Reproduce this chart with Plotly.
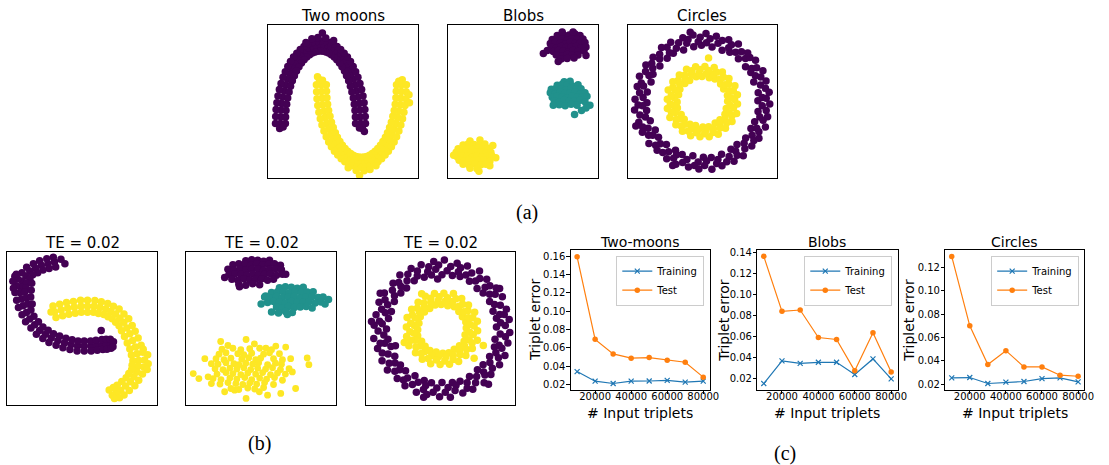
import plotly.graph_objects as go

# ---------------------------------------------------------------- data
# (a) / (b) scatter panels: point positions, in each
# panel's own data units (x: 0..151 left->right, y: 0..154 top->bottom)
A_MOON_PURPLE = [
    (93.1, 99), (98.1, 99), (88.1, 99), (92.9, 92.2), (97.9, 92), (87.9, 92.4),
    (92.5, 85.4), (97.5, 84.9), (87.5, 85.9), (91.7, 78.8), (96.7, 78.1), (86.8, 79.5),
    (90.7, 72.3), (95.6, 71.4), (85.8, 73.2), (89.3, 66), (94.2, 64.8), (84.4, 67.2),
    (87.7, 60), (92.5, 58.6), (82.9, 61.4), (85.8, 54.2), (90.5, 52.5), (81.1, 55.9),
    (83.6, 48.8), (88.2, 46.8), (79, 50.8), (81.3, 43.8), (85.7, 41.5), (76.9, 46.1),
    (78.7, 39.3), (83, 36.7), (74.4, 41.9), (75.9, 35.1), (79.9, 32.1), (71.9, 38.1),
    (72.9, 31.5), (76.6, 28.2), (69.2, 34.8), (69.8, 28.3), (73.1, 24.6), (66.5, 32),
    (66.5, 25.7), (69.4, 21.6), (63.6, 29.8), (63.2, 23.7), (65.5, 19.3), (60.9, 28.1),
    (59.7, 22.2), (61.3, 17.5), (58.1, 26.9), (56.2, 21.3), (57, 16.4), (55.4, 26.2),
    (52.7, 21), (52.7, 16), (52.7, 26), (49.2, 21.3), (48.4, 16.4), (50, 26.2),
    (45.7, 22.2), (44.1, 17.5), (47.3, 26.9), (42.2, 23.7), (39.9, 19.3), (44.5, 28.1),
    (38.9, 25.7), (36, 21.6), (41.8, 29.8), (35.6, 28.3), (32.3, 24.6), (38.9, 32),
    (32.5, 31.5), (28.8, 28.2), (36.2, 34.8), (29.5, 35.1), (25.5, 32.1), (33.5, 38.1),
    (26.7, 39.3), (22.4, 36.7), (31, 41.9), (24.1, 43.8), (19.7, 41.5), (28.5, 46.1),
    (21.8, 48.8), (17.2, 46.8), (26.4, 50.8), (19.6, 54.2), (14.9, 52.5), (24.3, 55.9),
    (17.7, 60), (12.9, 58.6), (22.5, 61.4), (16.1, 66), (11.2, 64.8), (21, 67.2),
    (14.7, 72.3), (9.8, 71.4), (19.6, 73.2), (13.7, 78.8), (8.7, 78.1), (18.6, 79.5),
    (12.9, 85.4), (7.9, 84.9), (17.9, 85.9), (12.5, 92.2), (7.5, 92), (17.5, 92.4),
    (12.3, 99), (7.3, 99), (17.3, 99),
    (50, 12.5), (58, 12.8), (44, 13.8), (54.6, 8), (11.5, 104), (15, 102.5),
    (95, 104), (97, 107), (92, 103.5), (66, 15.5), (38, 17.5),
]
A_MOON_YELLOW = [
    (53.6, 60), (48.6, 60), (58.6, 60), (53.8, 66.8), (48.8, 67), (58.8, 66.6),
    (54.2, 73.6), (49.2, 74.1), (59.2, 73.1), (55, 80.2), (50, 80.9), (59.9, 79.5),
    (56, 86.7), (51.1, 87.6), (60.9, 85.8), (57.4, 93), (52.5, 94.2), (62.3, 91.8),
    (59, 99), (54.2, 100.4), (63.8, 97.6), (60.9, 104.8), (56.2, 106.5), (65.6, 103.1),
    (63.1, 110.2), (58.5, 112.2), (67.7, 108.2), (65.4, 115.2), (61, 117.5), (69.8, 112.9),
    (68, 119.7), (63.7, 122.3), (72.3, 117.1), (70.8, 123.9), (66.8, 126.9), (74.8, 120.9),
    (73.8, 127.5), (70.1, 130.8), (77.5, 124.2), (76.9, 130.7), (73.6, 134.4), (80.2, 127),
    (80.2, 133.3), (77.3, 137.4), (83.1, 129.2), (83.5, 135.3), (81.2, 139.7), (85.8, 130.9),
    (87, 136.8), (85.4, 141.5), (88.6, 132.1), (90.5, 137.7), (89.7, 142.6), (91.3, 132.8),
    (94, 138), (94, 143), (94, 133), (97.5, 137.7), (98.3, 142.6), (96.7, 132.8),
    (101, 136.8), (102.6, 141.5), (99.4, 132.1), (104.5, 135.3), (106.8, 139.7), (102.2, 130.9),
    (107.8, 133.3), (110.7, 137.4), (104.9, 129.2), (111.1, 130.7), (114.4, 134.4), (107.8, 127),
    (114.2, 127.5), (117.9, 130.8), (110.5, 124.2), (117.2, 123.9), (121.2, 126.9), (113.2, 120.9),
    (120, 119.7), (124.3, 122.3), (115.7, 117.1), (122.6, 115.2), (127, 117.5), (118.2, 112.9),
    (124.9, 110.2), (129.5, 112.2), (120.3, 108.2), (127.1, 104.8), (131.8, 106.5), (122.4, 103.1),
    (129, 99), (133.8, 100.4), (124.2, 97.6), (130.6, 93), (135.5, 94.2), (125.7, 91.8),
    (132, 86.7), (136.9, 87.6), (127.1, 85.8), (133, 80.2), (138, 80.9), (128.1, 79.5),
    (133.8, 73.6), (138.8, 74.1), (128.8, 73.1), (134.2, 66.8), (139.2, 67), (129.2, 66.6),
    (134.4, 60), (139.4, 60), (129.4, 60),
    (96.7, 146.5), (88.7, 146.2), (102.7, 145.2), (92.1, 151), (135.2, 55), (131.7, 56.5),
    (51.7, 55), (49.7, 52), (54.7, 55.5), (80.7, 143.5), (108.7, 141.5), (142.5, 78), (142, 70),
]
A_BLOB_PURPLE = [
    (110, 10.5), (116, 9.5), (122, 10), (128, 9), (133, 10.5),
    (105, 14.5), (110, 13.5), (115, 14), (120, 15), (125, 13.5), (130, 14.5), (136, 14),
    (103, 18.5), (108, 17.5), (113, 18), (118, 19), (123, 17.5), (128, 18.5), (133, 18), (138, 17.5),
    (104, 22), (109, 23), (114, 21.5), (119, 22.5), (124, 22), (129, 21.5), (134, 23), (139, 22),
    (106, 26.5), (111, 25.5), (116, 26), (121, 27), (126, 25.5), (131, 26.5), (137, 26),
    (109, 30), (115, 31), (120, 29.5), (125, 30.5), (131, 30),
    (114, 34), (120, 33.5), (127, 33),
    (96, 28.5), (111, 36.5), (100, 25.5), (139, 30.5), (126, 7), (115, 7),
]
A_BLOB_TEAL = [
    (117, 57), (123, 56.5),
    (110, 60.5), (115, 59.5), (120, 60), (125, 61), (131, 60),
    (104, 64.5), (109, 63.5), (114, 64), (119, 65), (124, 63.5), (129, 64.5), (134, 64),
    (103, 68), (108, 69), (113, 67.5), (118, 68.5), (123, 68), (128, 67.5), (133, 69), (138, 68),
    (105, 72.5), (110, 71.5), (115, 72), (120, 73), (125, 71.5), (130, 72.5), (135, 72), (140, 71.5),
    (107, 76), (112, 77), (117, 75.5), (122, 76.5), (127, 76), (133, 75.5), (138, 77),
    (112, 80), (118, 81), (124, 79.5), (130, 80.5),
    (143, 80.5), (127.5, 90), (139, 83.5), (134.5, 86), (106, 80.5),
]
A_BLOB_YELLOW = [
    (22, 116.5), (32, 115.5),
    (15, 120.5), (20, 119.5), (26, 120), (31, 121), (37, 119.5),
    (10, 124.5), (15, 123.5), (20, 124), (25, 125), (30, 123.5), (35, 124.5), (40, 124),
    (8, 128), (13, 129), (18, 127.5), (23, 128.5), (28, 128), (33, 127.5), (38, 129), (43, 128),
    (9, 132.5), (14, 131.5), (19, 132), (24, 133), (29, 131.5), (34, 132.5), (39, 132), (44, 131.5),
    (11, 136), (16, 137), (21, 135.5), (26, 136.5), (31, 136), (36, 135.5), (42, 137),
    (15, 140), (21, 141), (27, 139.5), (33, 140.5), (38, 140),
    (22, 144), (29, 144.5),
    (45, 121), (48, 133.5), (31, 147), (5.5, 131), (42, 141.5),
]
B_MOON_PURPLE = [
    (47.5, 9.7), (46.3, 4.8), (48.7, 14.6), (40.9, 11.4), (39.7, 6.5), (42.1, 16.3),
    (34.2, 13), (32.5, 8.3), (35.9, 17.7), (28.4, 15.9), (26.2, 11.4), (30.6, 20.4),
    (22.5, 18.7), (19.4, 14.9), (25.6, 22.5), (18.7, 23.7), (14.7, 20.6), (22.7, 26.8),
    (14.8, 28.7), (10.3, 26.7), (19.3, 30.7), (13.7, 34.5), (8.8, 33.5), (18.6, 35.5),
    (12.5, 40.3), (7.6, 40.4), (17.4, 40.2), (14.2, 47), (9.3, 48.2), (19.1, 45.8),
    (15.8, 53.7), (11.1, 55.4), (20.5, 52), (19.2, 60.4), (14.7, 62.7), (23.7, 58.1),
    (22.5, 67), (18.3, 69.8), (26.7, 64.2), (27.5, 72.9), (23.7, 76.1), (31.3, 69.7),
    (32.5, 78.7), (29.2, 82.4), (35.8, 75), (38.4, 82.5), (35.7, 86.7), (41.1, 78.3),
    (44.2, 86.3), (41.9, 90.8), (46.5, 81.8), (50.9, 88.8), (49.1, 93.5), (52.7, 84.1),
    (57.5, 91.3), (56, 96.1), (59, 86.5), (64.2, 92.8), (63.1, 97.7), (65.3, 87.9),
    (70.8, 94.3), (70.3, 99.3), (71.3, 89.3), (77.5, 94.3), (77.5, 99.3), (77.5, 89.3),
    (84.2, 94.3), (84.5, 99.3), (83.9, 89.3), (90, 93.5), (90.7, 98.5), (89.3, 88.5),
    (95.8, 92.7), (96.3, 97.7), (95.3, 87.7), (100, 92.4), (100.4, 97.4), (99.6, 87.4),
    (104.2, 92), (104.6, 96.5), (103.8, 87.5),
    (94.6, 78.7), (5.5, 29), (6, 36), (7.5, 24), (107, 90), (106.5, 95), (54, 7),
    (9, 22), (58, 11.5), (24.5, 31), (24, 38), (23.5, 45), (25, 52),
]
B_MOON_YELLOW = [
    (47.5, 59.7), (49, 65.5), (46, 53.9), (54.2, 58), (55.7, 63.8), (52.7, 52.2),
    (60.8, 56.3), (62, 62.2), (59.6, 50.4), (67.5, 55.3), (68.4, 61.2), (66.6, 49.4),
    (74.2, 54.3), (74.6, 60.3), (73.8, 48.3), (80.8, 54.3), (80.8, 60.3), (80.8, 48.3),
    (87.5, 54.3), (86.8, 60.2), (88.2, 48.4), (93.3, 55.6), (91.9, 61.5), (94.7, 49.7),
    (99.2, 57), (97.2, 62.6), (101.2, 51.4), (104.2, 59.5), (101.5, 64.9), (106.9, 54.1),
    (109.2, 62), (105.7, 66.9), (112.7, 57.1), (113.4, 66.2), (109.2, 70.4), (117.6, 62),
    (117.5, 70.3), (112.6, 73.8), (122.4, 66.8), (120.5, 76.2), (115.1, 78.9), (125.9, 73.5),
    (123.5, 82), (118.1, 84.6), (128.9, 79.4), (126.4, 88.7), (120.9, 91.1), (131.9, 86.3),
    (129.2, 95.3), (123.5, 97.2), (134.9, 93.4), (130.9, 102), (125.1, 103.4), (136.7, 100.6),
    (132.5, 108.7), (126.6, 109), (138.4, 108.4), (131.7, 114.5), (125.8, 113.6), (137.6, 115.4),
    (130.8, 120.3), (125.3, 118.2), (136.3, 122.4), (127.5, 125.3), (122.5, 122), (132.5, 128.6),
    (124.2, 130.3), (119.8, 126.3), (128.6, 134.3), (119.2, 134.5), (115.4, 129.9), (123, 139.1),
    (114.2, 138.7), (110.7, 133.8), (117.7, 143.6), (110, 141.2), (106.9, 136.1), (113.1, 146.3),
    (105.8, 143.7), (102.7, 138.6), (108, 147),
    (141.5, 103), (142, 112), (141, 118), (44, 60), (137, 97.5),
]
B_BLOB_PURPLE = [
    (60, 8.5), (66, 7.5), (72, 8), (78, 9), (84, 8),
    (47, 12.5), (53, 11.5), (59, 12), (65, 13), (71, 11.5), (77, 12.5), (83, 12), (89, 11.5), (95, 13),
    (42, 17), (48, 18), (54, 16.5), (60, 17.5), (66, 17), (72, 16.5), (78, 18), (84, 17), (90, 16.5), (96, 17.5),
    (43, 22.5), (49, 21.5), (55, 22), (61, 23), (67, 21.5), (73, 22.5), (79, 22), (85, 21.5), (91, 23), (97, 22),
    (46, 27), (52, 28), (58, 26.5), (64, 27.5), (70, 27), (76, 26.5), (82, 28), (88, 27),
    (53, 32), (60, 33), (67, 31.5), (74, 32.5),
    (38.7, 25.3), (100.3, 22), (53.7, 34.7),
]
B_BLOB_TEAL = [
    (94, 35.5), (100, 34.5), (106, 35), (112, 36), (118, 35),
    (86, 40.5), (92, 39.5), (98, 40), (104, 41), (110, 39.5), (116, 40.5), (122, 40), (128, 39.5),
    (79, 45), (85, 46), (91, 44.5), (97, 45.5), (103, 45), (109, 44.5), (115, 46), (121, 45), (127, 44.5), (133, 45.5), (138, 45),
    (82, 50.5), (88, 49.5), (94, 50), (100, 51), (106, 49.5), (112, 50.5), (118, 50), (124, 49.5), (130, 51), (136, 50),
    (91, 55), (97, 56), (103, 54.5), (109, 55.5), (115, 55), (121, 54.5), (127, 56),
    (86, 60), (93, 61), (100, 59.5), (107, 60.5),
    (75.5, 52), (143.5, 47.5), (140, 52), (102, 62.5), (80, 44),
]
B_BLOB_YELLOW = [
    (34.7, 89.7), (42, 93.7), (60.3, 87.7), (68.7, 92), (80.3, 96.3), (90.3, 94.3), (100.3, 95.3),
    (105.3, 107), (107, 120.3), (122, 106.3), (123.7, 113), (110.3, 137), (95.3, 142), (82, 143.7),
    (60.3, 147), (38.7, 140.3), (25.3, 132), (22, 125.3), (7, 122), (12.7, 127), (18.7, 107),
    (25.3, 112), (73.7, 140.3), (48.7, 138.7), (97, 128.7), (103.7, 117),
    (36, 97.5), (47, 96.5), (55, 98), (64, 97), (74, 96.5), (86, 98),
    (33, 102.5), (40, 101), (52, 102), (58, 103), (66, 101.5), (78, 102.5), (84, 101), (94, 102),
    (30, 107), (38, 108), (45, 106.5), (56, 107.5), (63, 106), (70, 108), (75, 106.5), (88, 107), (97, 108),
    (32, 112.5), (40, 111), (48, 112), (53, 113), (60, 111.5), (67, 112.5), (73, 111), (82, 113), (90, 111.5), (96, 112.5),
    (29, 117), (37, 118), (44, 116.5), (51, 117.5), (58, 116), (65, 118), (72, 116.5), (80, 117.5), (87, 116), (95, 118),
    (31, 122.5), (40, 121), (47, 122), (55, 123), (62, 121.5), (70, 122.5), (77, 121), (85, 123), (92, 121.5), (100, 122.5),
    (27, 127), (35, 128), (44, 126.5), (51, 127.5), (59, 126), (66, 128), (74, 126.5), (81, 127.5), (89, 126),
    (34, 132.5), (42, 131), (50, 132), (57, 133), (64, 131.5), (71, 132.5), (79, 131), (88, 133),
    (45, 137), (53, 138), (62, 136.5), (69, 137.5), (78, 136),
]

# ring datasets, read as angle (deg) / radius (panel px) about the panel centre
A_RING_OUT_THETA = [
    1, 9, 21, 31, 39, 50, 61, 69, 80, 91, 99, 110, 121, 129, 140, 151, 159, 170,
    181, 189, 200, 211, 219, 230, 241, 249, 260, 271, 279, 290, 301, 309, 320, 331, 339, 350,
    4, 16, 26, 34, 45, 56, 64, 75, 86, 94, 105, 116, 124, 135, 146, 154, 165, 176,
    184, 195, 206, 214, 225, 236, 244, 255, 266, 274, 285, 296, 304, 315, 326, 334, 345, 356,
    3, 12, 23, 32, 43, 52, 63, 72, 83, 92, 103, 112, 123, 132, 143, 152, 163, 172,
    183, 192, 203, 212, 223, 232, 243, 252, 263, 272, 283, 292, 303, 312, 323, 332, 343, 352,
    8, 18, 27, 38, 47, 58, 67, 78, 87, 98, 107, 118, 127, 138, 147, 158, 167, 178,
    187, 198, 207, 218, 227, 238, 247, 258, 267, 278, 287, 298, 307, 318, 327, 338, 347, 358,
    200, 245, 100,
]
A_RING_OUT_R = [
    56, 57, 55.5, 57, 56, 56.5, 57, 55.5, 56, 57, 56, 55.5, 57, 56.5, 56, 57, 55.5, 56.5,
    56, 57, 56, 55.5, 57, 56.5, 56, 57, 55.5, 56, 57, 56.5, 56, 55.5, 57, 56, 56.5, 57,
    60.5, 61, 59.5, 60, 61.5, 60, 60.5, 61, 59.5, 60.5, 61, 60, 59.5, 61, 60.5, 60, 61.5, 60,
    60.5, 59.5, 61, 60.5, 60, 61, 59.5, 60.5, 61, 60, 60.5, 61.5, 60, 59.5, 60.5, 61, 60, 60.5,
    64.5, 65, 64, 64.5, 65.5, 64, 64.5, 65, 64, 65, 64.5, 64, 65.5, 64.5, 64, 65, 64.5, 64,
    65, 64.5, 65.5, 64, 64.5, 65, 64, 64.5, 65, 64.5, 64, 65.5, 64.5, 64, 65, 64.5, 64, 65,
    68, 67.5, 68.5, 68, 67, 68.5, 68, 67.5, 69, 68, 67.5, 68, 68.5, 67, 68, 68.5, 67.5, 68,
    69, 67.5, 68, 68.5, 67, 68, 68.5, 67.5, 68, 69, 67.5, 68, 68.5, 67, 68, 68.5, 67.5, 68,
    71.5, 71, 71,
]
A_RING_IN_THETA = [
    1, 14, 31, 44, 61, 74, 91, 104, 121, 134, 151, 164, 181, 194, 211, 224, 241, 254, 271, 284, 301, 314, 331, 344,
    8, 22, 37, 52, 68, 82, 97, 112, 128, 142, 157, 172, 188, 202, 217, 232, 248, 262, 277, 292, 308, 322, 337, 352,
    4, 19, 34, 49, 64, 79, 94, 109, 124, 139, 154, 169, 184, 199, 214, 229, 244, 259, 274, 289, 304, 319, 334, 349,
    11, 26, 41, 56, 71, 86, 101, 116, 131, 146, 161, 176, 191, 206, 221, 236, 251, 266, 281, 296, 311, 326, 341, 356,
    82,
]
A_RING_IN_R = [
    25.5, 26, 25, 25.5, 26, 25, 25.5, 26, 25, 25.5, 26, 25, 25.5, 26, 25, 25.5, 26, 25, 25.5, 26, 25, 25.5, 26, 25,
    29, 29.5, 28.5, 29, 29.5, 28.5, 29, 29.5, 28.5, 29, 29.5, 28.5, 29, 29.5, 28.5, 29, 29.5, 28.5, 29, 29.5, 28.5, 29, 29.5, 28.5,
    32.5, 33, 32, 32.5, 33, 32, 32.5, 33, 32, 32.5, 33, 32, 32.5, 33, 32, 32.5, 33, 32, 32.5, 33, 32, 32.5, 33, 32,
    36, 36.5, 35.5, 36, 36.5, 35.5, 36, 36.5, 35.5, 36, 36.5, 35.5, 36, 36.5, 35.5, 36, 36.5, 35.5, 36, 36.5, 35.5, 36, 36.5, 35.5,
    44.5,
]
B_RING_OUT_THETA = [
    2, 11, 19, 30, 41, 49, 60, 71, 79, 90, 101, 109, 120, 131, 139, 150, 161, 169,
    180, 191, 199, 210, 221, 229, 240, 251, 259, 270, 281, 289, 300, 311, 319, 330, 341, 349,
    6, 14, 25, 36, 44, 55, 66, 74, 85, 96, 104, 115, 126, 134, 145, 156, 164, 175,
    186, 194, 205, 216, 224, 235, 246, 254, 265, 276, 284, 295, 306, 314, 325, 336, 344, 355,
    3, 13, 22, 33, 42, 53, 62, 73, 82, 93, 102, 113, 122, 133, 142, 153, 162, 173,
    182, 193, 202, 213, 222, 233, 242, 253, 262, 273, 282, 293, 302, 313, 322, 333, 342, 353,
    8, 17, 28, 37, 48, 57, 68, 77, 88, 97, 108, 117, 128, 137, 148, 157, 168, 177,
    188, 197, 208, 217, 228, 237, 248, 257, 268, 277, 288, 297, 308, 317, 328, 337, 348, 357,
    174, 150, 310, 35, 255, 95, 200,
]
B_RING_OUT_R = [
    55, 56, 54.5, 55.5, 55, 54, 55.5, 56, 55, 54.5, 55.5, 55, 56, 54.5, 55, 55.5, 54, 55,
    56, 55.5, 54.5, 55, 55.5, 56, 54.5, 55, 55.5, 54, 55, 56, 55.5, 54.5, 55, 55.5, 56, 54.5,
    59.5, 60, 58.5, 59.5, 60.5, 59, 59.5, 60, 59, 60.5, 59.5, 59, 60, 59.5, 58.5, 60, 59.5, 60.5,
    59, 59.5, 60, 58.5, 59.5, 60.5, 59, 59.5, 60, 59.5, 58.5, 60, 59.5, 60.5, 59, 59.5, 60, 59,
    64, 64.5, 63.5, 64, 65, 63.5, 64, 64.5, 63.5, 64.5, 64, 63.5, 65, 64, 63.5, 64.5, 64, 63.5,
    64.5, 64, 65, 63.5, 64, 64.5, 63.5, 64, 64.5, 64, 63.5, 65, 64, 63.5, 64.5, 64, 63.5, 64.5,
    68.5, 68, 69, 68.5, 67.5, 69.5, 68.5, 68, 69.5, 68.5, 68, 68.5, 69, 67.5, 68.5, 69, 68, 68.5,
    69.5, 68, 68.5, 69, 67.5, 68.5, 69, 68, 68.5, 69.5, 68, 68.5, 69, 67.5, 68.5, 69, 68, 68.5,
    71.5, 72, 73, 71, 71.5, 50.5, 50,
]
B_RING_IN_THETA = [
    2, 16, 31, 46, 61, 76, 92, 106, 121, 136, 151, 166, 182, 196, 211, 226, 241, 256, 272, 286, 301, 316, 331, 346,
    9, 23, 38, 53, 69, 83, 98, 113, 129, 143, 158, 173, 189, 203, 218, 233, 249, 263, 278, 293, 309, 323, 338, 353,
    5, 20, 35, 50, 65, 80, 95, 110, 125, 140, 155, 170, 185, 200, 215, 230, 245, 260, 275, 290, 305, 320, 335, 350,
    12, 27, 42, 57, 72, 87, 102, 117, 132, 147, 162, 177, 192, 207, 222, 237, 252, 267, 282, 297, 312, 327, 342, 357,
    338, 317.5, 120, 200,
]
B_RING_IN_R = [
    24.5, 25, 24, 24.5, 25.5, 24, 24.5, 25, 24, 24.5, 25, 24, 24.5, 25.5, 24, 24.5, 25, 24, 24.5, 25, 24, 24.5, 25.5, 24,
    28.5, 29, 28, 28.5, 29.5, 28, 28.5, 29, 28, 28.5, 29, 28, 28.5, 29.5, 28, 28.5, 29, 28, 28.5, 29, 28, 28.5, 29.5, 28,
    32.5, 33, 32, 32.5, 33.5, 32, 32.5, 33, 32, 32.5, 33, 32, 32.5, 33.5, 32, 32.5, 33, 32, 32.5, 33, 32, 32.5, 33.5, 32,
    36.5, 37, 36, 36.5, 37.5, 36, 36.5, 37, 36, 36.5, 37, 36, 36.5, 37.5, 36, 36.5, 37, 36, 36.5, 37, 36, 36.5, 37.5, 36,
    45, 44, 41, 40.5,
]

# (c) triplet-error curves
INPUT_TRIPLETS = [10000, 20000, 30000, 40000, 50000, 60000, 70000, 80000]
MOONS_TRAIN = [0.0341, 0.0236, 0.0211, 0.0236, 0.0238, 0.0245, 0.0225, 0.0236]
MOONS_TEST = [0.1594, 0.0693, 0.0534, 0.0487, 0.0494, 0.0465, 0.0443, 0.0280]
BLOBS_TRAIN = [0.0149, 0.0365, 0.0342, 0.0352, 0.0352, 0.0235, 0.0384, 0.0194]
BLOBS_TEST = [0.1365, 0.0839, 0.0852, 0.0589, 0.0570, 0.0270, 0.0634, 0.0260]
CIRCLES_TRAIN = [0.0254, 0.0257, 0.0206, 0.0217, 0.0223, 0.0248, 0.0254, 0.0220]
CIRCLES_TEST = [0.1294, 0.0700, 0.0368, 0.0487, 0.0348, 0.0348, 0.0277, 0.0268]
X_TICKS = [20000, 40000, 60000, 80000]

# ---------------------------------------------------------------- styling
FIG_W, FIG_H = 1109, 465
PURPLE, TEAL, YELLOW = "#440154", "#21918c", "#fde725"
BLUE, ORANGE = "#1f77b4", "#ff7f0e"
FONT = "DejaVu Sans"
SERIF = "Liberation Serif"
DOT = 7.5
DOT_SPARSE = 6.8


def hx(p):
    return p / FIG_W


def vy(p):
    return 1 - p / FIG_H


fig = go.Figure()
layout = dict(
    width=FIG_W, height=FIG_H, margin=dict(l=0, r=0, t=0, b=0),
    paper_bgcolor="white", plot_bgcolor="white",
    font=dict(family=FONT, color="black"), showlegend=True,
    annotations=[],
)

# panel boxes in page pixels: (left, right, top, bottom)
BOXES = {
    1: (270.7, 421.7, 22.3, 176.3),
    2: (452.3, 603.3, 22.3, 176.3),
    3: (633.3, 784.3, 22.3, 176.3),
    4: (7.5, 158.5, 251, 405),
    5: (188, 339, 251, 405),
    6: (369, 520, 251, 405),
    7: (576, 716, 248.7, 389.3),
    8: (764.3, 905.7, 248.7, 389.3),
    9: (954, 1094.3, 248.7, 389.3),
}


def ax_name(i, k):
    return f"{k}axis" if i == 1 else f"{k}axis{i}"


def ref(i, k):
    return k if i == 1 else f"{k}{i}"


for i, (l, r, t, b) in BOXES.items():
    common = dict(showline=True, mirror=True, linecolor="black", linewidth=1,
                  showgrid=False, zeroline=False)
    if i <= 6:
        layout[ax_name(i, "x")] = dict(domain=[hx(l), hx(r)], range=[0, 151], anchor=ref(i, "y"),
                                       showticklabels=False, ticks="", **common)
        layout[ax_name(i, "y")] = dict(domain=[vy(b), vy(t)], range=[154, 0], anchor=ref(i, "x"),
                                       showticklabels=False, ticks="", **common)


def add_cloud(i, pts, color, size=DOT):
    xs, ys = zip(*pts) if pts else ((), ())
    fig.add_trace(go.Scatter(x=list(xs), y=list(ys), xaxis=ref(i, "x"), yaxis=ref(i, "y"),
                             mode="markers", marker=dict(size=size, color=color, line=dict(width=0)),
                             showlegend=False, hoverinfo="skip"))


add_cloud(1, A_MOON_PURPLE, PURPLE)
add_cloud(1, A_MOON_YELLOW, YELLOW)
add_cloud(2, A_BLOB_PURPLE, PURPLE)
add_cloud(2, A_BLOB_TEAL, TEAL)
add_cloud(2, A_BLOB_YELLOW, YELLOW)
add_cloud(3, [], PURPLE)          # empty: only registers the framed box
add_cloud(4, B_MOON_PURPLE, PURPLE)
add_cloud(4, B_MOON_YELLOW, YELLOW)
add_cloud(5, B_BLOB_PURPLE, PURPLE)
add_cloud(5, B_BLOB_TEAL, TEAL)
add_cloud(5, B_BLOB_YELLOW, YELLOW, DOT_SPARSE)
add_cloud(6, [], PURPLE)          # empty: only registers the framed box

# ring panels: polar subplots over the framed boxes
POLAR_DOMAINS = {
    "polar": (633.3, 784.3, 22.3, 176.3),
    "polar2": (370.5, 521.5, 251, 405),
}
for name, (l, r, t, b) in POLAR_DOMAINS.items():
    layout[name] = dict(domain=dict(x=[hx(l), hx(r)], y=[vy(b), vy(t)]),
                        bgcolor="rgba(0,0,0,0)",
                        radialaxis=dict(visible=False, range=[0, (r - l) / 2]),
                        angularaxis=dict(visible=False))


def add_ring(sub, theta, rr, color):
    fig.add_trace(go.Scatterpolar(r=rr, theta=theta, subplot=sub, mode="markers",
                                  marker=dict(size=DOT, color=color, line=dict(width=0)),
                                  showlegend=False, hoverinfo="skip"))


add_ring("polar", A_RING_OUT_THETA, A_RING_OUT_R, PURPLE)
add_ring("polar", A_RING_IN_THETA, A_RING_IN_R, YELLOW)
add_ring("polar2", B_RING_OUT_THETA, B_RING_OUT_R, PURPLE)
add_ring("polar2", B_RING_IN_THETA, B_RING_IN_R, YELLOW)

# (c) line charts
C_SERIES = [
    (7, MOONS_TRAIN, MOONS_TEST, [0.0142, 0.1668], "legend"),
    (8, BLOBS_TRAIN, BLOBS_TEST, [0.0089, 0.1425], "legend2"),
    (9, CIRCLES_TRAIN, CIRCLES_TEST, [0.0152, 0.1348], "legend3"),
]
for i, train, test, yr, lg in C_SERIES:
    l, r, t, b = BOXES[i]
    common = dict(showline=True, mirror=True, linecolor="black", linewidth=1,
                  showgrid=False, zeroline=False, ticks="outside", ticklen=3.5,
                  tickwidth=1, tickcolor="black",
                  tickfont=dict(family=FONT, size=10, color="black"))
    layout[ax_name(i, "x")] = dict(domain=[hx(l), hx(r)], range=[6500, 83500], anchor=ref(i, "y"),
                                   tickvals=X_TICKS, ticktext=[str(v) for v in X_TICKS],
                                   ticklabelstandoff=-6, **common)
    layout[ax_name(i, "y")] = dict(domain=[vy(b), vy(t)], range=yr, anchor=ref(i, "x"),
                                   tick0=0, dtick=0.02, tickformat=".2f",
                                   ticklabelstandoff=-1, **common)
    fig.add_trace(go.Scatter(x=INPUT_TRIPLETS, y=train, xaxis=ref(i, "x"), yaxis=ref(i, "y"),
                             mode="lines+markers", name="Training", legend=lg,
                             line=dict(color=BLUE, width=1.2),
                             marker=dict(symbol="x-thin", size=5, color=BLUE,
                                         line=dict(width=1.2, color=BLUE))))
    fig.add_trace(go.Scatter(x=INPUT_TRIPLETS, y=test, xaxis=ref(i, "x"), yaxis=ref(i, "y"),
                             mode="lines+markers", name="Test", legend=lg,
                             line=dict(color=ORANGE, width=1.2),
                             marker=dict(symbol="circle", size=5.5, color=ORANGE)))
    layout[lg] = dict(x=hx(r - 5.3), y=vy(t + 5.6), xanchor="right", yanchor="top",
                      bgcolor="rgba(255,255,255,0.8)", bordercolor="#cccccc", borderwidth=1,
                      font=dict(family=FONT, size=10, color="black"),
                      itemwidth=30, tracegroupgap=0)

# texts
ann = layout["annotations"]


def text(x, y, s, size, family=FONT, angle=0):
    ann.append(dict(x=hx(x), y=vy(y), xref="paper", yref="paper", text=s, showarrow=False,
                    xanchor="center", yanchor="middle", textangle=angle,
                    font=dict(family=family, size=size, color="black")))


PANEL_TITLES = {1: "Two moons", 2: "Blobs", 3: "Circles",
                4: "TE = 0.02", 5: "TE = 0.02", 6: "TE = 0.02",
                7: "Two-moons", 8: "Blobs", 9: "Circles"}
for i, s in PANEL_TITLES.items():
    l, r, t, b = BOXES[i]
    if i <= 3:
        text((l + r) / 2, 13.5, s, 15)
    elif i <= 6:
        text((l + r) / 2, 241.5, s, 15)
    else:
        text((l + r) / 2, 241, s, 14)

for i, ylab_x in ((7, 540.0), (8, 730.5), (9, 917.0)):
    l, r, t, b = BOXES[i]
    text((l + r) / 2, 413, "# Input triplets", 14)
    text(ylab_x, (t + b) / 2, "Triplet error", 14, angle=-90)

text(532, 211, "(a)", 20, SERIF)
text(262, 443, "(b)", 20, SERIF)
text(792.5, 453, "(c)", 20, SERIF)

fig.update_layout(**layout)
fig.write_html("out.html")
